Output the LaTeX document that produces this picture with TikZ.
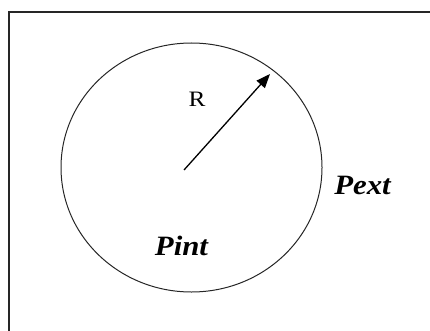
\documentclass[tikz,border=0pt]{standalone}
\usepackage{fontspec}
\newfontfamily\libserif{Liberation Serif}
\usetikzlibrary{arrows.meta,shapes.geometric}
\begin{document}
\begin{tikzpicture}[x=1pt,y=-1pt,
  frame/.style={line width=1.4pt,black!85},
  lbl/.style={font=\libserif\fontsize{28}{30}\selectfont\bfseries\itshape,inner sep=0pt,anchor=base,xscale=1.1},
  rlbl/.style={font=\libserif\fontsize{22}{24}\selectfont,inner sep=0pt,anchor=base,xscale=1.15}]
\useasboundingbox (0,0) rectangle (430,331);
\draw[frame] (430,12) -- (9,12) -- (9,331);
\node[draw,ellipse,line width=1pt,black!85,minimum width=261pt,minimum height=249pt,inner sep=0pt] (circ) at (191.5,167.5) {};
\coordinate (c) at (184,170);
\coordinate (tip) at (270,74);
\draw[line width=1.3pt,-{Triangle[length=14pt,width=11pt]}] (c) -- (tip);
\node[rlbl] (R) at (197,107) {R};
\node[lbl] (pint) at (181.5,255) {Pint};
\node[lbl] (pext) at (362.5,194) {Pext};
\end{tikzpicture}
\end{document}
